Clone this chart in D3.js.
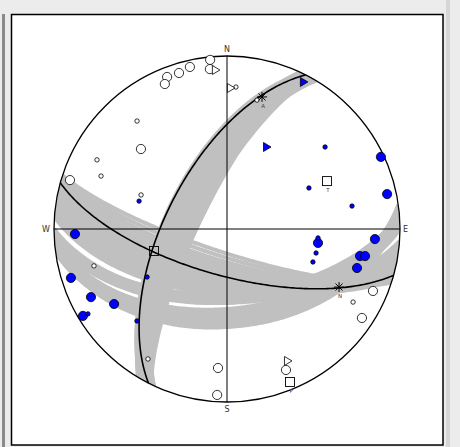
<!DOCTYPE html>
<html><head><meta charset="utf-8">
<script src="https://cdn.jsdelivr.net/npm/d3@7"></script>
<style>
html,body{margin:0;padding:0;background:#ececec;}
svg{display:block;}
</style></head>
<body>
<script>
// ---- data (trend/plunge in degrees, planes as strike/dip, right-hand rule) ----
const cardinals = ["N","E","S","W"];
const mainPlanes = [[207,61],[105.5,68]];
const bandA = [[207,62],[206,64],[208,63],[205,66],[207,66],[209,65],[210,67],[206,68],[208,69],[205,70],[209,70],[207,71],[210,72],[206,73],[208,74],[211,69],[209,62],[205,68],[207,76],[209,75],[206,77],[208,72],[210,64],[206,61]];
const bandB1 = [[108,79],[107.5,77],[107,75],[106.5,73],[106,71],[105.5,69],[105,67],[104,66],[103,65],[102,64],[101,63],[100,62],[99,61],[98,61],[97,60],[96,60],[95,59],[94,59],[107,70],[106,66],[104,63],[102,61],[100,60],[105,72],[103,68],[101,66],[99,64],[97,63],[108,74],[107,68]];
const bandB2 = [[90,57],[89,58],[88,56],[87,58],[86,57],[85,59],[90,55],[88,59],[87,55],[89,56],[86,55],[85,57]];
const bandB3 = [[84,45],[83,47],[85,44],[86,46],[82,48],[84,49],[85,50],[83,43],[86,43],[82,45],[84,47],[85,47],[83,51],[84,52],[86,50]];
const bigOpen = [[354.3,2.0],[353.9,7.8],[347.1,4.4],[342.9,6.3],[338.5,6.2],[336.8,9.7],[312.9,32.6],[113.0,9.2],[123.4,7.3],[287.3,5.5],[183.7,20.6],[183.4,4.4],[157.3,12.7]];
const smallOpen = [[3.6,18.9],[13.1,24.5],[320.2,19.9],[120.1,16.9],[298.0,16.0],[292.8,22.1],[291.6,45.6],[254.5,21.3],[211.3,13.1]];
const bigBlue = [[64.9,2.0],[77.7,5.9],[93.9,15.4],[98.7,45.8],[101.5,22.6],[101.1,19.8],[106.7,22.6],[268.1,13.1],[252.6,6.1],[243.4,13.1],[236.4,22.7],[238.9,3.1]];
const smallBlue = [[50.1,27.0],[63.4,46.0],[79.6,27.4],[95.6,46.1],[105.1,45.7],[111.0,45.8],[287.6,45.7],[239.0,45.2],[238.6,6.5],[224.4,26.5]];
const openTri = [[356.0,8.7],[1.6,19.6],[155.2,17.1]];
const blueTri = [[27.6,4.6],[26.0,46.2]];
const axisTrend = [64.4,157.6,253.2];
const axisPlunge = [36.1,4.9,53.7];
const axisLabel = ["T","P",""];
const starTrend = [14.85,117.4];
const starPlunge = [22.1,27.9];
const starLabel = ["A","N"];

// ---- layout ----
const W=460,H=447,cx=227,cy=229,R=173;
const rad=Math.PI/180;
const rScale=d3.scaleLinear().domain([0,1]).range([0,R]);
function proj(t,p){
  const r=rScale(Math.SQRT2*Math.sin((90-p)/2*rad));
  return [cx+r*Math.sin(t*rad), cy-r*Math.cos(t*rad)];
}
function greatCircle(s,d){
  const S=[Math.cos(s*rad),Math.sin(s*rad),0];
  const D=[Math.cos((s+90)*rad)*Math.cos(d*rad),Math.sin((s+90)*rad)*Math.cos(d*rad),Math.sin(d*rad)];
  const pts=[];
  for(let a=0;a<=180;a+=1){
    const c=Math.cos(a*rad), sn=Math.sin(a*rad);
    const v=[c*S[0]+sn*D[0],c*S[1]+sn*D[1],c*S[2]+sn*D[2]];
    const pl=Math.asin(Math.max(-1,Math.min(1,v[2])))/rad;
    const tr=Math.atan2(v[1],v[0])/rad;
    pts.push(proj(tr,pl));
  }
  return pts;
}
const line=d3.line();

const svg=d3.select("body").append("svg").attr("width",W).attr("height",H);
svg.append("rect").attr("x",0).attr("y",0).attr("width",W).attr("height",H).attr("fill","#ececec");
svg.append("rect").attr("x",2).attr("y",14).attr("width",3).attr("height",H-14).attr("fill","#8a8a8a");
svg.append("rect").attr("x",446).attr("y",0).attr("width",4).attr("height",H).attr("fill","#d6d6d6");
svg.append("rect").attr("x",11.5).attr("y",14.5).attr("width",431.5).attr("height",430.5).attr("fill","#fff").attr("stroke","#000").attr("stroke-width",1.5);

const g=svg.append("g");
const clip=svg.append("clipPath").attr("id","net");
clip.append("circle").attr("cx",cx).attr("cy",cy).attr("r",R);
const bands=g.append("g").attr("clip-path","url(#net)");
[bandA,bandB1,bandB2,bandB3].forEach(b=>{
  bands.selectAll(null).data(b).enter().append("path")
   .attr("d",d=>line(greatCircle(d[0],d[1])))
   .attr("fill","none").attr("stroke","#c0c0c0").attr("stroke-width",4);
});
// cross lines
g.append("line").attr("x1",cx).attr("x2",cx).attr("y1",cy-R).attr("y2",cy+R).attr("stroke","#000").attr("stroke-width",1);
g.append("line").attr("x1",cx-R).attr("x2",cx+R).attr("y1",cy).attr("y2",cy).attr("stroke","#000").attr("stroke-width",1);
// main planes
g.selectAll(null).data(mainPlanes).enter().append("path")
 .attr("d",d=>line(greatCircle(d[0],d[1])))
 .attr("fill","none").attr("stroke","#000").attr("stroke-width",1.6);
g.append("circle").attr("cx",cx).attr("cy",cy).attr("r",R).attr("fill","none").attr("stroke","#000").attr("stroke-width",1.3);
// cardinal labels
const labPos=[[cx,cy-R-4,"middle"],[cx+R+3,cy+3,"start"],[cx,cy+R+10,"middle"],[cx-R-4,cy+3,"end"]];
g.selectAll(null).data(cardinals).enter().append("text")
 .attr("x",(d,i)=>labPos[i][0]).attr("y",(d,i)=>labPos[i][1]).attr("text-anchor",(d,i)=>labPos[i][2])
 .attr("font-family","DejaVu Sans").attr("font-size",8).attr("fill","#333").text(d=>d);

function circles(data,r,fill){
  g.selectAll(null).data(data).enter().append("circle")
   .attr("cx",d=>proj(d[0],d[1])[0]).attr("cy",d=>proj(d[0],d[1])[1]).attr("r",r)
   .attr("fill",fill).attr("stroke","#000").attr("stroke-width",0.8);
}
circles(bigOpen,4.6,"#fff");
circles(smallOpen,2.2,"#fff");
function tris(data,fill){
  g.selectAll(null).data(data).enter().append("path")
   .attr("transform",d=>"translate("+proj(d[0],d[1])+")")
   .attr("d","M-3.5,-4.5L4,0L-3.5,4.5Z").attr("fill",fill).attr("stroke","#000").attr("stroke-width",0.8);
}
tris(openTri,"#fff");
tris(blueTri,"#0000ff");
circles(bigBlue,4.6,"#0000ff");
circles(smallBlue,2.2,"#0000ff");
// axes squares
axisTrend.forEach((t,i)=>{
  const p=proj(t,axisPlunge[i]);
  g.append("rect").attr("x",p[0]-4.5).attr("y",p[1]-4.5).attr("width",9).attr("height",9).attr("fill","none").attr("stroke","#000").attr("stroke-width",0.9);
  g.append("text").attr("x",p[0]+1).attr("y",p[1]+11).attr("text-anchor","middle").attr("font-family","DejaVu Sans").attr("font-size",5.5).attr("fill","#444").text(axisLabel[i]);
});
starTrend.forEach((t,i)=>{
  const p=proj(t,starPlunge[i]);
  const s=g.append("g").attr("transform","translate("+p+")");
  [0,45,90,135].forEach(a=>{
    s.append("line").attr("x1",-5*Math.cos(a*rad)).attr("y1",-5*Math.sin(a*rad)).attr("x2",5*Math.cos(a*rad)).attr("y2",5*Math.sin(a*rad)).attr("stroke","#000").attr("stroke-width",1);
  });
  g.append("text").attr("x",p[0]+1).attr("y",p[1]+11).attr("text-anchor","middle").attr("font-family","DejaVu Sans").attr("font-size",5.5).attr("fill","#444").text(starLabel[i]);
});
</script>
</body></html>
